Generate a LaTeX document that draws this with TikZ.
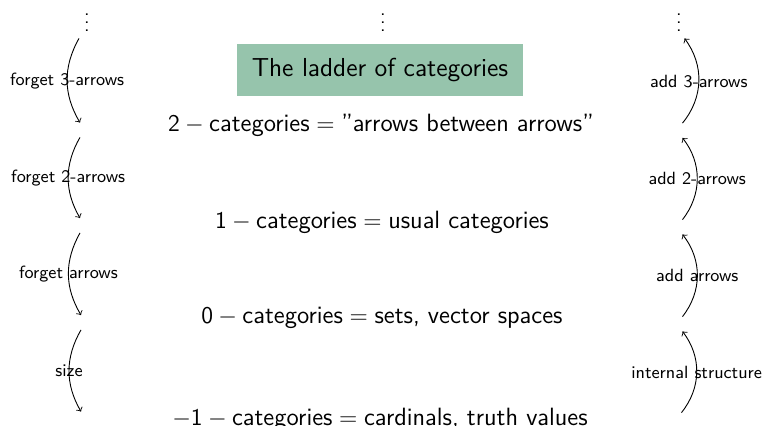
\documentclass[tikz,border=0pt]{standalone}
\usepackage{amsmath}
\definecolor{titlegreen}{RGB}{150,196,172}
\begin{document}
\begin{tikzpicture}[x=0.5pt,y=-0.5pt,
  every node/.style={font=\sffamily},
  body/.style={font=\sffamily\fontsize{12.5}{15}\selectfont, inner sep=0pt},
  side/.style={font=\sffamily\fontsize{8.85}{10}\selectfont, inner sep=0pt},
  hook/.style={inner sep=0pt, minimum width=0pt, minimum height=7pt},
  ladder/.style={->, line width=0.45pt, bend right=30},
  rladder/.style={->, line width=0.45pt, bend right=38}]
\useasboundingbox (0,0) rectangle (766,426);
% vertical dots
\node[inner sep=0pt] (vl) at (87,17) {$\vdots$};
\node[inner sep=0pt] (vm) at (383,17) {$\vdots$};
\node[inner sep=0pt] (vr) at (679,17) {$\vdots$};
% title
\node[fill=titlegreen, minimum width=143pt, minimum height=26pt,
      font=\sffamily\fontsize{13}{15}\selectfont] (title) at (380,70) {The ladder of categories};
% lines
\node[body] (c2) at (381,125) {$\mathsf{2}-\text{categories}=\text{"arrows between arrows"}$};
\node[body] (c1) at (382,222) {$\mathsf{1}-\text{categories}=\text{usual categories}$};
\node[body] (c0) at (382,318) {$\mathsf{0}-\text{categories}=\text{sets, vector spaces}$};
\node[body] (cm) at (380,419) {$-\mathsf{1}-\text{categories}=\text{cardinals, truth values}$};
% left anchors
\node[hook] (L0) at (79,31) {};
\node[hook] (L1) at (80,130) {};
\node[hook] (L2) at (80,225.5) {};
\node[hook] (L3) at (81,322.5) {};
\node[hook] (L4) at (81,419) {};
% right anchors
\node[hook] (R0) at (684.5,31) {};
\node[hook] (R1) at (682.5,130.5) {};
\node[hook] (R2) at (682.5,227) {};
\node[hook] (R3) at (682.5,324) {};
\node[hook] (R4) at (681.5,420) {};
% left arrows
\draw[ladder] (L0.south) to node[side] {forget 3-arrows} (L1.north);
\draw[ladder] (L1.south) to node[side] {forget 2-arrows} (L2.north);
\draw[ladder] (L2.south) to node[side] {forget arrows} (L3.north);
\draw[ladder] (L3.south) to node[side] {size} (L4.north);
% right arrows
\draw[rladder] (R1.north) to node[side] {add 3-arrows} (R0.south);
\draw[rladder] (R2.north) to node[side] {add 2-arrows} (R1.south);
\draw[rladder] (R3.north) to node[side] {add arrows} (R2.south);
\draw[rladder] (R4.north) to node[side] {internal structure} (R3.south);
\end{tikzpicture}
\end{document}
